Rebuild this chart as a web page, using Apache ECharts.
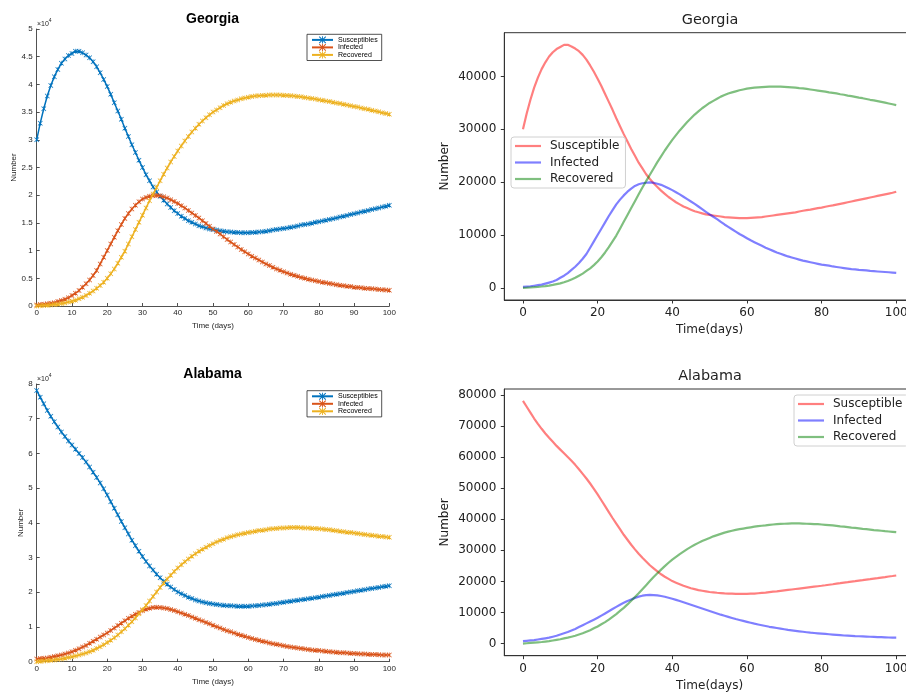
<!DOCTYPE html>
<html>
<head>
<meta charset="utf-8">
<script src="https://cdn.jsdelivr.net/npm/echarts@6/dist/echarts.min.js"></script>
<style>
html,body{margin:0;padding:0;background:#fff;}
#chart{width:906px;height:693px;}
</style>
</head>
<body>
<div id="chart"></div>
<script>
// ---- data (values in units of 10^4 people), one value per day 0..100 ----
const days = Array.from({length: 101}, (_, i) => i);
const SCALE = 10000;

const georgiaS = [3.00,3.30,3.56,3.79,3.98,4.14,4.27,4.38,4.46,4.52,
4.56,4.60,4.60,4.57,4.53,4.48,4.41,4.32,4.21,4.09,
3.96,3.82,3.67,3.52,3.37,3.21,3.06,2.91,2.77,2.63,
2.50,2.37,2.26,2.15,2.06,1.98,1.91,1.84,1.78,1.72,
1.67,1.62,1.58,1.54,1.51,1.48,1.45,1.43,1.41,1.39,
1.38,1.37,1.36,1.35,1.34,1.335,1.33,1.325,1.32,1.32,
1.32,1.325,1.33,1.335,1.34,1.35,1.36,1.37,1.38,1.39,
1.40,1.41,1.42,1.43,1.445,1.46,1.47,1.48,1.495,1.51,
1.52,1.535,1.55,1.56,1.575,1.59,1.605,1.62,1.635,1.65,
1.665,1.68,1.695,1.71,1.725,1.74,1.755,1.77,1.785,1.80,
1.82];
const georgiaI = [0.02,0.025,0.03,0.04,0.05,0.06,0.08,0.10,0.12,0.15,
0.19,0.23,0.28,0.34,0.40,0.47,0.55,0.64,0.76,0.88,
1.00,1.12,1.24,1.36,1.47,1.58,1.67,1.75,1.82,1.88,
1.93,1.96,1.98,1.99,1.995,1.99,1.97,1.95,1.92,1.885,
1.85,1.81,1.77,1.725,1.68,1.635,1.59,1.54,1.49,1.44,
1.39,1.345,1.30,1.25,1.20,1.155,1.11,1.065,1.02,0.98,
0.94,0.90,0.865,0.83,0.795,0.76,0.73,0.70,0.67,0.645,
0.62,0.595,0.575,0.555,0.535,0.515,0.50,0.485,0.47,0.455,
0.44,0.43,0.42,0.405,0.395,0.385,0.375,0.365,0.355,0.35,
0.34,0.335,0.33,0.32,0.315,0.31,0.305,0.30,0.295,0.29,
0.285];
const georgiaR = [0.00,0.003,0.007,0.012,0.018,0.025,0.033,0.043,0.055,0.07,
0.085,0.105,0.13,0.16,0.19,0.23,0.27,0.32,0.37,0.43,
0.50,0.58,0.67,0.77,0.88,0.99,1.12,1.25,1.38,1.51,
1.64,1.77,1.90,2.02,2.14,2.26,2.38,2.49,2.60,2.70,
2.80,2.89,2.98,3.06,3.14,3.21,3.28,3.34,3.40,3.45,
3.50,3.54,3.58,3.62,3.65,3.68,3.70,3.72,3.74,3.755,
3.77,3.78,3.79,3.795,3.80,3.805,3.81,3.81,3.81,3.81,
3.805,3.80,3.795,3.79,3.78,3.775,3.765,3.755,3.745,3.735,
3.725,3.715,3.70,3.69,3.68,3.665,3.655,3.64,3.63,3.615,
3.60,3.59,3.575,3.56,3.55,3.535,3.52,3.505,3.49,3.475,
3.46];

const alabamaS = [7.81,7.62,7.43,7.24,7.07,6.91,6.76,6.62,6.49,6.36,
6.24,6.12,6.00,5.88,5.75,5.61,5.46,5.31,5.15,4.98,
4.80,4.61,4.42,4.23,4.04,3.86,3.68,3.50,3.34,3.18,
3.03,2.89,2.76,2.64,2.52,2.42,2.32,2.23,2.15,2.08,
2.01,1.96,1.91,1.86,1.82,1.78,1.75,1.72,1.70,1.68,
1.66,1.65,1.635,1.625,1.615,1.61,1.605,1.60,1.60,1.60,
1.60,1.605,1.61,1.62,1.63,1.64,1.655,1.67,1.68,1.695,
1.71,1.725,1.74,1.755,1.77,1.785,1.80,1.815,1.83,1.845,
1.86,1.876,1.893,1.909,1.926,1.942,1.959,1.975,1.992,2.008,
2.025,2.041,2.058,2.074,2.091,2.107,2.124,2.14,2.157,2.173,
2.19];
const alabamaI = [0.08,0.09,0.10,0.11,0.13,0.15,0.17,0.19,0.22,0.25,
0.29,0.33,0.37,0.42,0.47,0.53,0.59,0.65,0.71,0.77,
0.83,0.90,0.97,1.04,1.11,1.18,1.25,1.31,1.37,1.42,
1.47,1.51,1.54,1.56,1.565,1.56,1.55,1.53,1.505,1.475,
1.44,1.405,1.37,1.33,1.29,1.25,1.21,1.17,1.13,1.09,
1.05,1.01,0.97,0.93,0.895,0.86,0.825,0.79,0.76,0.73,
0.70,0.67,0.64,0.615,0.59,0.565,0.54,0.52,0.50,0.48,
0.46,0.44,0.425,0.41,0.395,0.38,0.365,0.35,0.34,0.33,
0.32,0.31,0.30,0.29,0.28,0.27,0.26,0.255,0.25,0.24,
0.235,0.23,0.225,0.22,0.215,0.21,0.205,0.20,0.195,0.19,
0.19];
const alabamaR = [0.00,0.01,0.02,0.03,0.04,0.05,0.065,0.08,0.10,0.12,
0.14,0.165,0.19,0.22,0.25,0.29,0.33,0.38,0.43,0.49,
0.55,0.62,0.69,0.77,0.86,0.95,1.05,1.15,1.26,1.38,
1.50,1.62,1.75,1.88,2.01,2.14,2.26,2.38,2.49,2.60,
2.70,2.79,2.88,2.96,3.04,3.11,3.18,3.24,3.30,3.35,
3.40,3.45,3.49,3.53,3.57,3.60,3.63,3.66,3.68,3.70,
3.72,3.74,3.76,3.78,3.79,3.80,3.82,3.83,3.84,3.85,
3.855,3.86,3.865,3.865,3.865,3.86,3.855,3.85,3.845,3.84,
3.83,3.82,3.81,3.80,3.785,3.77,3.76,3.745,3.73,3.72,
3.705,3.69,3.68,3.665,3.65,3.64,3.63,3.615,3.605,3.595,
3.585];

const matlabNames = ['Susceptibles', 'Infected', 'Recovered'];
const pyNames = ['Susceptible', 'Infected ', 'Recovered ']; // trailing space keeps legends separate
const pyTicksX = [0, 20, 40, 60, 80, 100];
const pyTicksYGeorgia = [0, 10000, 20000, 30000, 40000];
const pyTicksYAlabama = [0, 10000, 20000, 30000, 40000, 50000, 60000, 70000, 80000];

// ---- helpers ----
function pts(arr) { return arr.map((v, i) => [days[i], v * SCALE]); }

const M_COLORS = ['#0072BD', '#D95319', '#EDB120'];
const P_COLORS = ['rgba(255,0,0,0.5)', 'rgba(0,0,255,0.5)', 'rgba(0,128,0,0.5)'];
const STAR = 'path://M1,0L5,4L9,0L10,1L6,5L10,9L9,10L5,6L1,10L0,9L4,5L0,1Z M4.4,0H5.6V10H4.4Z';
const LINE_ICON = 'path://M0,0H26V2.2H0Z';
const MF = 'Liberation Sans';
const PF = 'DejaVu Sans';
const MC = '#262626';
const PC = '#222';

function matlabSeries(arrs, gi) {
  return arrs.map((a, k) => ({
    name: matlabNames[k], type: 'line', xAxisIndex: gi, yAxisIndex: gi,
    data: pts(a), symbol: STAR, symbolSize: 5, showAllSymbol: true,
    lineStyle: {color: M_COLORS[k], width: 1.5},
    itemStyle: {color: M_COLORS[k]},
    animation: false, z: 2 + k
  }));
}
function pySeries(arrs, gi) {
  return arrs.map((a, k) => ({
    name: pyNames[k], type: 'line', xAxisIndex: gi, yAxisIndex: gi,
    data: pts(a), symbol: 'none',
    lineStyle: {color: P_COLORS[k], width: 2.2},
    itemStyle: {color: P_COLORS[k]},
    animation: false, z: 2 + k
  }));
}

function matlabX(gi) {
  return {
    gridIndex: gi, type: 'value', min: 0, max: 100, interval: 10,
    axisLine: {onZero: false, lineStyle: {color: MC, width: 0.8}},
    axisTick: {inside: true, length: 3, lineStyle: {color: MC, width: 0.8}},
    axisLabel: {fontSize: 8, color: MC, margin: 3, fontFamily: MF},
    splitLine: {show: false},
    name: 'Time (days)', nameLocation: 'middle', nameGap: 16,
    nameTextStyle: {fontSize: 8, color: MC, fontFamily: MF}
  };
}
function matlabY(gi, max, interval, gap) {
  return {
    gridIndex: gi, type: 'value', min: 0, max: max, interval: interval,
    axisLine: {show: true, onZero: false, lineStyle: {color: MC, width: 0.8}},
    axisTick: {show: true, inside: true, length: 3, lineStyle: {color: MC, width: 0.8}},
    axisLabel: {fontSize: 8, color: MC, margin: 4, fontFamily: MF, formatter: v => String(v / SCALE)},
    splitLine: {show: false},
    name: 'Number', nameLocation: 'middle', nameGap: gap,
    nameTextStyle: {fontSize: 8, color: MC, fontFamily: MF}
  };
}
function pyX(gi) {
  return {
    gridIndex: gi, type: 'value', min: -5, max: 105,
    axisLine: {onZero: false, lineStyle: {color: '#333', width: 1}},
    axisTick: {show: true, length: 3.5, customValues: pyTicksX, lineStyle: {color: '#333'}},
    axisLabel: {customValues: pyTicksX, fontSize: 12, color: PC, margin: 7, fontFamily: PF, formatter: v => String(v)},
    splitLine: {show: false},
    name: 'Time(days)', nameLocation: 'middle', nameGap: 24,
    nameTextStyle: {fontSize: 12, color: PC, fontFamily: PF}
  };
}
function pyY(gi, min, max, ticks) {
  return {
    gridIndex: gi, type: 'value', min: min, max: max,
    axisLine: {show: true, onZero: false, lineStyle: {color: '#333', width: 1}},
    axisTick: {show: true, length: 3.5, customValues: ticks, lineStyle: {color: '#333'}},
    axisLabel: {customValues: ticks, fontSize: 12, color: PC, margin: 8, fontFamily: PF, formatter: v => String(v)},
    splitLine: {show: false},
    name: 'Number', nameLocation: 'middle', nameGap: 53,
    nameTextStyle: {fontSize: 12, color: PC, fontFamily: PF}
  };
}
function matlabLegend(top) {
  return {
    left: 307, top: top, orient: 'vertical', data: matlabNames, selectedMode: false,
    itemWidth: 21, itemHeight: 9, itemGap: 0.3, padding: [2, 4, 2, 4],
    borderColor: MC, borderWidth: 0.8, borderRadius: 0, backgroundColor: '#fff',
    textStyle: {fontSize: 7, fontFamily: MF, color: '#000'}
  };
}
function pyLegend(left, top) {
  return {
    left: left, top: top, orient: 'vertical', data: pyNames, selectedMode: false,
    formatter: n => n.trim(), icon: LINE_ICON, symbolKeepAspect: true,
    itemWidth: 26, itemHeight: 14, itemGap: 4.5, padding: [3, 6, 3, 4],
    borderColor: '#d0d0d0', borderWidth: 1, borderRadius: 3,
    backgroundColor: 'rgba(255,255,255,0.8)',
    textStyle: {fontSize: 12, fontFamily: PF, color: PC, padding: [0, 0, 0, 4]}
  };
}
function titleText(text, x, y, matlab) {
  return {
    type: 'text', x: x, y: y, z: 10,
    style: {
      text: text, align: 'center', verticalAlign: 'middle',
      fontFamily: matlab ? MF : PF, fontSize: matlab ? 14 : 14.4,
      fontWeight: matlab ? 'bold' : 'normal', fill: matlab ? '#000' : PC
    }
  };
}
function expText(x, y) {
  return {
    type: 'text', x: x, y: y, z: 10,
    style: {
      text: '{a|\u00d710}{b|4}',
      rich: {
        a: {fontSize: 7, fontFamily: MF, fill: MC, verticalAlign: 'bottom', lineHeight: 10},
        b: {fontSize: 5, fontFamily: MF, fill: MC, verticalAlign: 'top', lineHeight: 10}
      }
    }
  };
}

const option = {
  backgroundColor: '#fff',
  animation: false,
  grid: [
    {left: 36.7, top: 29, width: 352.6, height: 277, show: false, outerBoundsMode: 'none'},
    {left: 504.3, top: 32.7, width: 410.6, height: 267.3, show: true, borderColor: '#333', borderWidth: 1, backgroundColor: 'transparent', outerBoundsMode: 'none'},
    {left: 36.7, top: 384, width: 352.6, height: 277.7, show: false, outerBoundsMode: 'none'},
    {left: 504.3, top: 389, width: 410.6, height: 266.7, show: true, borderColor: '#333', borderWidth: 1, backgroundColor: 'transparent', outerBoundsMode: 'none'}
  ],
  xAxis: [matlabX(0), pyX(1), matlabX(2), pyX(3)],
  yAxis: [
    matlabY(0, 50000, 5000, 18),
    pyY(1, -2300, 48300, pyTicksYGeorgia),
    matlabY(2, 80000, 10000, 12),
    pyY(3, -3900, 81900, pyTicksYAlabama)
  ],
  legend: [matlabLegend(34.3), pyLegend(511, 137), matlabLegend(390.7), pyLegend(794, 395)],
  series: [].concat(
    matlabSeries([georgiaS, georgiaI, georgiaR], 0),
    pySeries([georgiaS, georgiaI, georgiaR], 1),
    matlabSeries([alabamaS, alabamaI, alabamaR], 2),
    pySeries([alabamaS, alabamaI, alabamaR], 3)
  ),
  graphic: [
    titleText('Georgia', 212.5, 19.3, true),
    titleText('Georgia', 710, 20.5, false),
    titleText('Alabama', 212.5, 374.5, true),
    titleText('Alabama', 710, 376, false),
    expText(37, 18),
    expText(37, 373)
  ]
};

const chart = echarts.init(document.getElementById('chart'), null, {renderer: 'canvas'});
chart.setOption(option);
</script>
</body>
</html>
